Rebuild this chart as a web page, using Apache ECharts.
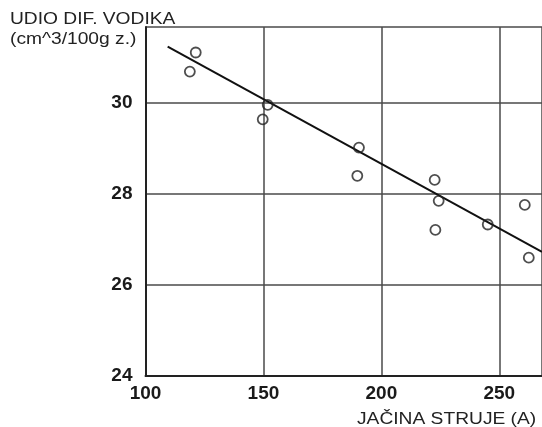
<!DOCTYPE html>
<html>
<head>
<meta charset="utf-8">
<script src="https://cdn.jsdelivr.net/npm/echarts@6/dist/echarts.min.js"></script>
<style>
html,body{margin:0;padding:0;background:#fff;}
#chart{width:542px;height:427px;}
</style>
</head>
<body>
<div id="chart"></div>
<script>
// Data
var currentA = [121.3, 118.8, 151.8, 149.7, 190.5, 189.8, 222.6, 224.3, 222.9, 245.1, 260.8, 262.5];
var hydrogen = [31.11, 30.69, 29.96, 29.64, 29.02, 28.40, 28.31, 27.85, 27.21, 27.33, 27.76, 26.60];
var fitX = [109.4, 268.1];
var fitY = [31.24, 26.73];
var yTitleLines = ['UDIO DIF. VODIKA', '(cm^3/100g z.)'];
var xTitle = 'JAČINA STRUJE (A)';

var points = currentA.map(function (x, i) { return [x, hydrogen[i]]; });
var fitLine = fitX.map(function (x, i) { return [x, fitY[i]]; });

var chart = echarts.init(document.getElementById('chart'), null, {renderer: 'canvas'});
var fontFam = '"Liberation Sans", Arial, Helvetica, sans-serif';
var gridColor = '#4a4a4a';

chart.setOption({
  animation: false,
  backgroundColor: '#ffffff',
  grid: {left: 145.5, top: 27, right: -2, bottom: 51, containLabel: false},
  xAxis: {
    type: 'value', min: 100, max: 268.1, interval: 50,
    axisLine: {show: true, onZero: false, lineStyle: {color: '#222', width: 2}},
    axisTick: {show: false},
    axisLabel: {showMaxLabel: false, margin: 8, color: '#1a1a1a', fontSize: 19, fontWeight: 'bold', fontFamily: fontFam},
    splitLine: {show: true, lineStyle: {color: gridColor, width: 1.5}}
  },
  yAxis: {
    type: 'value', min: 24, max: 31.67, interval: 2,
    axisLine: {show: true, onZero: false, lineStyle: {color: '#222', width: 2}},
    axisTick: {show: false},
    axisLabel: {showMaxLabel: false, margin: 13, color: '#1a1a1a', fontSize: 19, fontWeight: 'bold', fontFamily: fontFam},
    splitLine: {show: true, lineStyle: {color: gridColor, width: 1.5}}
  },
  graphic: [
    {type: 'text', x: 10, y: 12, scaleX: 1.2, z: 100,
     style: {text: yTitleLines[0], fill: '#222', font: '16px ' + fontFam, textVerticalAlign: 'top'}},
    {type: 'text', x: 10, y: 32, scaleX: 1.2, z: 100,
     style: {text: yTitleLines[1], fill: '#222', font: '16px ' + fontFam, textVerticalAlign: 'top'}},
    {type: 'text', x: 357, y: 412, scaleX: 1.2, z: 100,
     style: {text: xTitle, fill: '#222', font: '16px ' + fontFam, textVerticalAlign: 'top'}}
  ],
  series: [
    {
      type: 'line', data: fitLine, symbol: 'none', silent: true,
      lineStyle: {color: '#111', width: 2}, z: 2
    },
    {
      type: 'scatter', data: points, symbol: 'circle', symbolSize: 10,
      itemStyle: {color: 'rgba(255,255,255,0)', borderColor: '#222', borderWidth: 1.8}, z: 3
    }
  ]
});
</script>
</body>
</html>
